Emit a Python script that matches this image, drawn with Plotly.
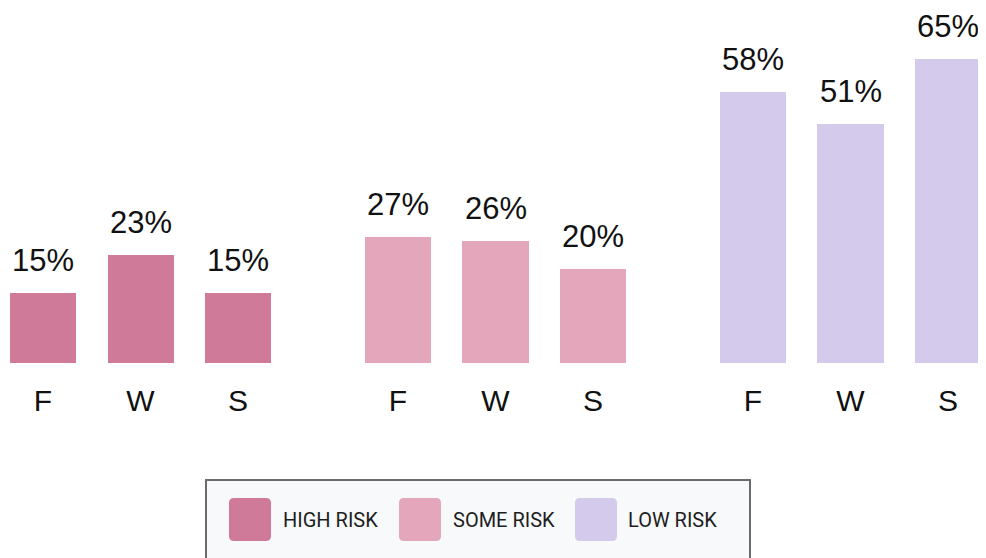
import plotly.graph_objects as go

# ---- data ----
seasons = ["F", "W", "S"]
risk_levels = ["HIGH RISK", "SOME RISK", "LOW RISK"]
high_risk = [15, 23, 15]
some_risk = [27, 26, 20]
low_risk = [58, 51, 65]
series_values = [high_risk, some_risk, low_risk]
colors = ["#D07A9A", "#E3A6BA", "#D4CAEC"]

# ---- layout constants ----
OFF = 8                      # page body margin
W, H = 986 - OFF, 558 - OFF
BASE_Y = 363                 # baseline in page pixels
PLOT_H = BASE_Y - OFF
GROUP_STEP = 3.641
UNIT = 97.5
FIRST_X = 43 - OFF
BAR_W = 0.677
PX_PER_PCT = 4.68

fig = go.Figure()
tickvals, ticktext = [], []
annotations = []
for g, (name, vals, col) in enumerate(zip(risk_levels, series_values, colors)):
    xs = [g * GROUP_STEP + i for i in range(len(seasons))]
    fig.add_trace(go.Bar(x=xs, y=vals, width=BAR_W, name=name,
                         marker=dict(color=col, line=dict(width=0)),
                         showlegend=False, hoverinfo="skip"))
    tickvals += xs
    ticktext += seasons
    for x, v in zip(xs, vals):
        annotations.append(dict(x=x, y=v, xref="x", yref="y", text=f"{v}%",
                                showarrow=False, yanchor="bottom", yshift=13,
                                font=dict(family="Liberation Sans, Arial", size=31, color="#111")))

def px(x):
    return (x - OFF) / W

def py(y):
    return (PLOT_H - (y - OFF)) / PLOT_H

def rounded_path(x0, y0, x1, y1, r):
    def P(x, y):
        return f"{px(x):.5f},{py(y):.5f}"
    return (f"M {P(x0 + r, y0)} L {P(x1 - r, y0)} Q {P(x1, y0)} {P(x1, y0 + r)} "
            f"L {P(x1, y1 - r)} Q {P(x1, y1)} {P(x1 - r, y1)} "
            f"L {P(x0 + r, y1)} Q {P(x0, y1)} {P(x0, y1 - r)} "
            f"L {P(x0, y0 + r)} Q {P(x0, y0)} {P(x0 + r, y0)} Z")

shapes = [dict(type="rect", xref="paper", yref="paper",
               x0=px(206), x1=px(750), y0=py(480), y1=py(575),
               fillcolor="#F8F9FA", line=dict(color="#6B6B6B", width=2), layer="above")]
sw_x = [229, 399, 575]
txt_x = [283, 453, 628]
for name, col, sx, tx in zip(risk_levels, colors, sw_x, txt_x):
    shapes.append(dict(type="path", xref="paper", yref="paper",
                       path=rounded_path(sx, 498, sx + 42, 541, 5),
                       fillcolor=col, line=dict(width=0), layer="above"))
    annotations.append(dict(x=px(tx), y=py(519.5), xref="paper", yref="paper",
                            text=name, showarrow=False, xanchor="left", yanchor="middle",
                            xshift=-2,
                            font=dict(family="Roboto", size=20, color="#1E1E1E")))

fig.update_layout(
    width=W, height=H,
    margin=dict(l=0, r=0, t=0, b=H - PLOT_H),
    paper_bgcolor="white", plot_bgcolor="white",
    xaxis=dict(range=[-FIRST_X / UNIT, (W - FIRST_X) / UNIT], tickvals=tickvals, ticktext=ticktext,
               tickfont=dict(family="Liberation Sans, Arial", size=30, color="#111"),
               showgrid=False, zeroline=False, showline=False, ticks="",
               ticklabelstandoff=17),
    yaxis=dict(range=[0, PLOT_H / PX_PER_PCT], visible=False, showgrid=False, zeroline=False),
    shapes=shapes, annotations=annotations, bargap=0,
)
fig.write_html("out.html")
